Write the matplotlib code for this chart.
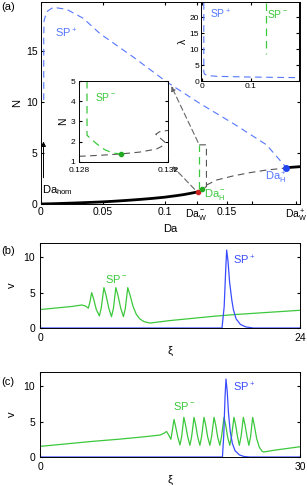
import matplotlib
matplotlib.use('Agg')
import matplotlib.pyplot as plt

plt.rcParams['font.family'] = ['Liberation Sans', 'DejaVu Sans']
plt.rcParams['mathtext.fontset'] = 'custom'
plt.rcParams['mathtext.rm'] = 'Liberation Sans'
plt.rcParams['mathtext.default'] = 'regular'
plt.rcParams['font.size'] = 7.5
plt.rcParams['xtick.direction'] = 'in'
plt.rcParams['ytick.direction'] = 'in'
plt.rcParams['xtick.top'] = True
plt.rcParams['ytick.right'] = True
plt.rcParams['xtick.major.size'] = 2.5
plt.rcParams['ytick.major.size'] = 2.5
plt.rcParams['axes.linewidth'] = 0.7

GREEN = '#3cc83c'
BLUE = '#3a4cff'
LBLUE = '#5577ff'
GRAY = '#555555'

# ---- panel (a): bifurcation diagram N vs Da
stable_da = [0, 0.01, 0.02, 0.03, 0.04, 0.05, 0.06, 0.07, 0.08, 0.09, 0.1, 0.11, 0.115, 0.12, 0.1263]
stable_n = [0, 0.03, 0.07, 0.11, 0.16, 0.21, 0.28, 0.36, 0.45, 0.55, 0.67, 0.83, 0.92, 1.03, 1.18]
stable2_da = [0.198, 0.209]
stable2_n = [3.56, 3.66]
unstable_da = [0.1263, 0.1296, 0.1336, 0.1417, 0.155, 0.1685, 0.182, 0.1954, 0.198]
unstable_n = [1.18, 1.44, 1.86, 2.35, 2.75, 3.07, 3.33, 3.50, 3.56]
box_da = [0.1277, 0.1335, 0.1335, 0.1296]
box_n = [5.8, 5.8, 1.7, 1.44]
spplus_da = [0.0022, 0.0022, 0.0025, 0.0046, 0.0099, 0.0207, 0.0341, 0.0476, 0.0745,
             0.101, 0.128, 0.155, 0.182, 0.198]
spplus_n = [10.2, 16.5, 18.0, 18.85, 19.28, 19.08, 18.2, 16.7, 14.4, 12.0, 9.87, 7.9, 5.8, 3.56]
spminus_da = [0.1277, 0.1277]
spminus_n = [1.44, 5.8]
da_ticks = [0, 0.05, 0.1, 0.1255, 0.15, 0.17, 0.206]
da_ticklabels = ['0', '0.05', '0.1', 'Da$_W^-$', '0.15', '', 'Da$_W^+$']

# zoom inset N vs Da
zoom_gray_da = [0.128, 0.12893, 0.1299, 0.13073, 0.13148, 0.1318, 0.13185, 0.13163, 0.13145, 0.13163, 0.132]
zoom_gray_n = [1.28, 1.33, 1.40, 1.49, 1.64, 1.82, 1.99, 2.2, 2.37, 2.5, 2.56]
zoom_green_da = [0.12836, 0.12836, 0.12845, 0.12878, 0.12915, 0.12953, 0.1299]
zoom_green_n = [5.0, 2.32, 2.23, 1.91, 1.61, 1.44, 1.40]

# inset lambda vs Da
lam_plus_da = [0.0028, 0.0028, 0.0045, 0.0117, 0.029, 0.091, 0.2]
lam_plus = [24.5, 2.8, 2.1, 1.7, 1.47, 1.26, 1.05]
lam_minus_da = [0.131, 0.131]
lam_minus = [24.5, 8.4]

# ---- panel (b)
xi_b = [0, 1, 2, 3, 3.85, 4.2, 4.46, 4.6, 4.77, 4.95, 5.2, 5.48, 5.65, 5.9, 6.1, 6.35, 6.6,
        6.78, 7.0, 7.2, 7.45, 7.7, 7.88, 8.1, 8.3, 8.6, 8.9, 9.2, 9.6, 10.15, 12, 14, 16, 18, 20, 22, 24]
v_minus_b = [2.6, 2.75, 2.9, 3.05, 3.25, 3.1, 2.8, 3.6, 5.0, 4.1, 2.6, 1.7, 2.8, 5.7, 4.6, 2.8, 1.6,
             2.8, 5.7, 4.6, 2.8, 1.6, 2.8, 5.7, 4.7, 3.0, 1.9, 1.3, 0.9, 0.7, 1.05, 1.35, 1.65, 1.9, 2.1, 2.3, 2.5]
xi_plus_b = [0, 16.8, 17.0, 17.15, 17.23, 17.35, 17.5, 17.7, 17.85, 18.1, 18.5, 19.0, 19.7, 24]
v_plus_b = [0, 0, 3.0, 8.5, 11.0, 9.5, 6.5, 4.0, 2.6, 1.3, 0.5, 0.15, 0, 0]

# ---- panel (c)
xi_c = [0, 3, 6, 9, 12, 13.85, 14.3, 14.6, 14.85, 15.1, 15.25, 15.46,
        15.65, 15.9, 16.15, 16.35, 16.6,
        16.8, 17.05, 17.3, 17.5, 17.77,
        17.97, 18.2, 18.45, 18.65, 18.92,
        19.12, 19.35, 19.6, 19.8, 20.08,
        20.28, 20.5, 20.75, 20.95, 21.23,
        21.43, 21.65, 21.9, 22.1, 22.38,
        22.58, 22.8, 23.0, 23.2, 23.46,
        23.66, 23.9, 24.1, 24.3, 24.54,
        24.74, 25.0, 25.3, 25.6, 25.8, 27, 28.5, 30]
v_minus_c = [1.5, 1.85, 2.2, 2.5, 2.85, 3.1, 3.35, 3.6, 3.1, 2.5, 3.6, 5.3,
             4.3, 2.8, 1.7, 2.9, 5.6,
             4.5, 2.8, 1.65, 2.9, 5.6,
             4.5, 2.8, 1.65, 2.9, 5.6,
             4.5, 2.8, 1.65, 2.9, 5.6,
             4.5, 2.8, 1.65, 2.9, 5.6,
             4.5, 2.8, 1.65, 2.9, 5.6,
             4.5, 2.8, 1.65, 2.9, 5.6,
             4.5, 2.8, 1.65, 2.9, 5.6,
             4.4, 2.6, 1.4, 0.85, 0.7, 0.95, 1.2, 1.45]
xi_plus_c = [0, 21.05, 21.2, 21.35, 21.46, 21.6, 21.75, 21.95, 22.2, 22.5, 23.0, 23.5, 24.2, 30]
v_plus_c = [0, 0, 3.0, 8.5, 11.0, 9.3, 6.2, 3.6, 1.9, 0.9, 0.3, 0.08, 0, 0]

W, H = 307, 486
fig = plt.figure(figsize=(W / 100, H / 100), dpi=100)


def box(l, t, r, b):
    return [l / W, 1 - b / H, (r - l) / W, (b - t) / H]


DASH = (6, 4)

# main panel (a)
ax = fig.add_axes(box(41, 2, 300, 204))
ax.plot(stable_da, stable_n, color='black', lw=2)
ax.plot(stable2_da, stable2_n, color='black', lw=2)
ax.plot(unstable_da, unstable_n, color=GRAY, lw=0.8, dashes=DASH)
ax.plot(box_da, box_n, color=GRAY, lw=0.8, dashes=DASH)
ax.plot(spplus_da, spplus_n, color=LBLUE, lw=0.8, dashes=DASH)
ax.plot(spminus_da, spminus_n, color=GREEN, lw=0.9, dashes=DASH)
ax.plot([0.1263], [1.18], 'o', color='#cc2222', ms=3)
ax.plot([0.1296], [1.44], 'o', color='#22aa22', ms=3)
ax.plot([0.198], [3.56], 'o', color='#2244ee', ms=4)
arrow = dict(arrowstyle='-|>', color='#666666', lw=0.8, linestyle=(0, (5, 3)), mutation_scale=7)
ax.annotate('', xy=(0.1045, 3.9), xytext=(0.1255, 1.25), arrowprops=arrow)
ax.annotate('', xy=(0.1042, 11.8), xytext=(0.1277, 5.8), arrowprops=arrow)
ax.annotate('', xy=(0.002, 6.4), xytext=(0.002, 2.3),
            arrowprops=dict(arrowstyle='-|>', color='black', lw=0.7, mutation_scale=7))
ax.text(0.0012, 1.37, 'Da$_{hom}$', va='center', ha='left', fontsize=8)
ax.text(0.0113, 17.4, 'SP$^+$', color=LBLUE, va='top', ha='left', fontsize=8)
ax.text(0.1315, 0.98, 'Da$_H^-$', color=GREEN, va='center', ha='left', fontsize=8)
ax.text(0.1806, 2.6, 'Da$_H^+$', color=LBLUE, va='center', ha='left', fontsize=8)
ax.set_xlim(0, 0.209)
ax.set_ylim(0, 19.8)
ax.set_xticks(da_ticks)
ax.set_xticklabels(da_ticklabels)
ax.set_yticks([0, 5, 10, 15])
ax.tick_params(labelsize=7.5, pad=2.5)
ax.set_xlabel('Da', labelpad=0, fontsize=8)
ax.set_ylabel('N', labelpad=3, fontsize=8)

# zoom inset
ax1 = fig.add_axes(box(79, 81, 168, 162))
ax1.plot(zoom_gray_da, zoom_gray_n, color=GRAY, lw=0.8, dashes=DASH)
ax1.plot(zoom_green_da, zoom_green_n, color=GREEN, lw=0.9, dashes=DASH)
ax1.plot([0.1299], [1.40], 'o', color='#22aa22', ms=3)
ax1.text(0.1287, 4.5, 'SP$^-$', color=GREEN, va='top', ha='left', fontsize=7.5)
ax1.set_xlim(0.128, 0.132)
ax1.set_ylim(1, 5)
ax1.set_xticks([0.128, 0.132])
ax1.set_xticklabels(['0.128', '0.132'])
ax1.set_yticks([1, 2, 3, 4, 5])
ax1.tick_params(axis='x', labelsize=6, pad=3.5)
ax1.tick_params(axis='y', labelsize=6, pad=2.5)
ax1.set_ylabel('N', labelpad=2, fontsize=7.5)

# lambda inset
ax2 = fig.add_axes(box(201, 2, 299, 81))
ax2.plot(lam_plus_da, lam_plus, color=LBLUE, lw=0.8, dashes=DASH)
ax2.plot(lam_minus_da, lam_minus, color=GREEN, lw=0.9, dashes=DASH)
ax2.text(0.015, 21, 'SP$^+$', color=LBLUE, va='center', ha='left', fontsize=7.5)
ax2.text(0.134, 21, 'SP$^-$', color=GREEN, va='center', ha='left', fontsize=7.5)
ax2.set_xlim(-0.003, 0.2)
ax2.set_ylim(0, 24.8)
ax2.set_xticks([0, 0.1])
ax2.set_xticklabels(['0', '0.1'])
ax2.set_yticks([0, 5, 10, 15, 20])
ax2.tick_params(labelsize=6, pad=1.5)
ax2.set_ylabel('λ', labelpad=1, fontsize=7.5)

# panel (b)
axb = fig.add_axes(box(40, 243, 300, 328))
axb.plot(xi_b, v_minus_b, color=GREEN, lw=0.9)
axb.plot(xi_plus_b, v_plus_b, color=BLUE, lw=0.9)
axb.text(6.0, 6.3, 'SP$^-$', color=GREEN, fontsize=8)
axb.text(17.8, 9.0, 'SP$^+$', color=BLUE, fontsize=8)
axb.set_xlim(0, 24)
axb.set_ylim(0, 12)
axb.set_xticks([0, 24])
axb.set_yticks([0, 5, 10])
axb.set_xlabel('ξ', labelpad=2, fontsize=8)
axb.set_ylabel('v', labelpad=5, fontsize=8)

# panel (c)
axc = fig.add_axes(box(40, 372, 300, 457))
axc.plot(xi_c, v_minus_c, color=GREEN, lw=0.9)
axc.plot(xi_plus_c, v_plus_c, color=BLUE, lw=0.9)
axc.text(15.4, 6.7, 'SP$^-$', color=GREEN, fontsize=8)
axc.text(22.3, 9.3, 'SP$^+$', color=BLUE, fontsize=8)
axc.set_xlim(0, 30)
axc.set_ylim(0, 12)
axc.set_xticks([0, 30])
axc.set_yticks([0, 5, 10])
axc.set_xlabel('ξ', labelpad=2, fontsize=8)
axc.set_ylabel('v', labelpad=5, fontsize=8)

fig.text(1 / W, 1 - 2 / H, '(a)', va='top', ha='left', fontsize=8)
fig.text(1 / W, 1 - 246 / H, '(b)', va='top', ha='left', fontsize=8)
fig.text(1 / W, 1 - 377 / H, '(c)', va='top', ha='left', fontsize=8)

fig.savefig('out.png', dpi=100)
